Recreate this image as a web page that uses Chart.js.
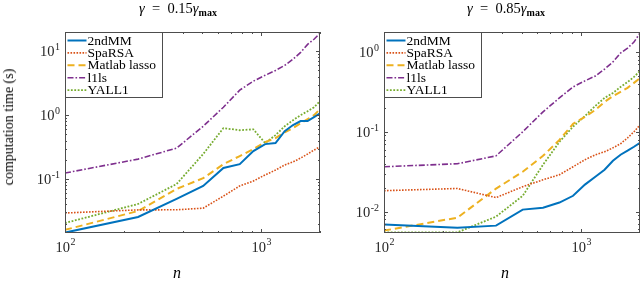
<!DOCTYPE html>
<html>
<head>
<meta charset="utf-8">
<script src="https://cdn.jsdelivr.net/npm/chart.js@4.4.1/dist/chart.umd.min.js"></script>
<style>
  body { margin: 0; width: 640px; height: 281px; overflow: hidden; background: #fff; position: relative; font-family: "Liberation Serif", serif; color: #000; }
  canvas { position: absolute; top: 0; }
  .lbl { position: absolute; white-space: nowrap; transform: translate(-50%, -50%); font-size: 14.5px; }
  .lbl sub { font-size: 10px; font-weight: bold; vertical-align: -3px; }
  .ylab { position: absolute; white-space: nowrap; font-size: 14px; transform: translate(-50%, -50%) rotate(-90deg); }
</style>
</head>
<body>
<canvas id="cL" width="330" height="281" style="left:0"></canvas>
<canvas id="cR" width="320" height="281" style="left:320px"></canvas>
<div class="lbl" style="left:178px; top:9px"><i>γ</i>&nbsp;&nbsp;=&nbsp;&nbsp;0.15<i>γ</i><sub>max</sub></div>
<div class="lbl" style="left:506px; top:9px"><i>γ</i>&nbsp;&nbsp;=&nbsp;&nbsp;0.85<i>γ</i><sub>max</sub></div>
<div class="ylab" style="left:9px; top:127px">computation time (s)</div>
<div class="lbl" style="left:177px; top:273px; font-size:16px"><i>n</i></div>
<div class="lbl" style="left:505px; top:273px; font-size:16px"><i>n</i></div>
<script>
// problem sizes n (15 points, 100..2000)
const nVals = [100, 236, 371, 507, 643, 779, 914, 1050, 1186, 1321, 1457, 1593, 1729, 1864, 2000];

// gamma = 0.15 gamma_max
const mm2L   = [0.0145, 0.0255, 0.049, 0.078, 0.149, 0.171, 0.274, 0.352, 0.365, 0.56, 0.70, 0.806, 0.806, 0.93, 1.07];
const spaL   = [0.0294, 0.0329, 0.033, 0.035, 0.054, 0.078, 0.093, 0.116, 0.138, 0.166, 0.185, 0.213, 0.246, 0.284, 0.32];
const lassoL = [0.016, 0.0316, 0.070, 0.103, 0.171, 0.229, 0.294, 0.378, 0.437, 0.54, 0.627, 0.75, 0.866, 1.0, 1.24];
const l1lsL  = [0.124, 0.205, 0.305, 0.67, 1.33, 2.46, 3.4, 4.2, 5.0, 6.0, 7.5, 9.6, 12.8, 15.4, 19.1];
const yallL  = [0.0205, 0.0407, 0.0835, 0.246, 0.627, 0.58, 0.60, 0.365, 0.487, 0.67, 0.835, 1.0, 1.15, 1.33, 1.65];

// gamma = 0.85 gamma_max
const mm2R   = [0.00688, 0.0063, 0.00668, 0.0106, 0.0112, 0.013, 0.0158, 0.0218, 0.0274, 0.0335, 0.0434, 0.0516, 0.058, 0.065, 0.073];
const spaR   = [0.0183, 0.0195, 0.015, 0.0205, 0.0251, 0.029, 0.0365, 0.0447, 0.0516, 0.0562, 0.063, 0.0708, 0.084, 0.1, 0.122];
const lassoR = [0.00579, 0.0084, 0.0194, 0.0316, 0.05, 0.079, 0.126, 0.154, 0.188, 0.237, 0.28, 0.316, 0.355, 0.41, 0.47];
const l1lsR  = [0.0365, 0.0398, 0.05, 0.1, 0.178, 0.266, 0.365, 0.435, 0.5, 0.61, 0.75, 0.97, 1.12, 1.33, 1.73];
const yallR  = [0.0055, 0.0055, 0.00866, 0.0158, 0.0387, 0.075, 0.116, 0.158, 0.211, 0.266, 0.307, 0.365, 0.42, 0.487, 0.58];

const names = ['2ndMM', 'SpaRSA', 'Matlab lasso', 'l1ls', 'YALL1'];
const styles = [
  { color: '#0072BD', width: 2,   dash: [] },
  { color: '#D95319', width: 1.6, dash: [1.6, 1.4] },
  { color: '#EDB120', width: 2,   dash: [7, 4] },
  { color: '#7E2F8E', width: 1.6, dash: [6, 2, 1.6, 2] },
  { color: '#77AC30', width: 1.8, dash: [1.8, 1.6] }
];

const FONT = '"Liberation Serif", serif';

function makeSets(series) {
  return series.map((vals, i) => ({
    label: names[i],
    data: vals.map((v, k) => ({ x: nVals[k], y: v })),
    borderColor: styles[i].color,
    borderWidth: styles[i].width,
    borderDash: styles[i].dash,
    pointRadius: 0,
    tension: 0,
    fill: false
  }));
}

function line(ctx, x1, y1, x2, y2) {
  ctx.beginPath(); ctx.moveTo(x1, y1); ctx.lineTo(x2, y2); ctx.stroke();
}

// draws "10" with superscript exponent; anchor = 'right' or 'center'
function powLabel(ctx, exp, x, y, anchor) {
  ctx.font = '14.5px ' + FONT;
  const wb = ctx.measureText('10').width;
  ctx.font = '10px ' + FONT;
  const txt = String(exp).replace('-', '\u2011');
  const we = ctx.measureText(txt).width;
  const total = wb + we + 0.5;
  const x0 = anchor === 'right' ? x - total : x - total / 2;
  ctx.textBaseline = 'middle';
  ctx.textAlign = 'left';
  ctx.font = '14.5px ' + FONT;
  ctx.fillText('10', x0, y);
  ctx.font = '10px ' + FONT;
  ctx.fillText(txt, x0 + wb + 0.5, y - 5.5);
}

// MATLAB-like box, inward ticks, tick labels and legend
const axesDeco = {
  id: 'axesDeco',
  afterDatasetsDraw(chart) {
    const { ctx, chartArea: a, scales: { x, y } } = chart;
    ctx.save();
    ctx.strokeStyle = '#4d4d4d';
    ctx.fillStyle = '#262626';
    ctx.lineWidth = 1;
    ctx.setLineDash([]);

    for (let e = 1; e <= 4; e++) {
      for (let m = 1; m < 10; m++) {
        const v = m * Math.pow(10, e);
        if (v < x.min - 1e-9 || v > x.max + 1e-9) continue;
        const px = Math.round(x.getPixelForValue(v)) + 0.5;
        const len = m === 1 ? 4 : 2;
        line(ctx, px, a.bottom, px, a.bottom - len);
        line(ctx, px, a.top, px, a.top + len);
        if (m === 1) powLabel(ctx, e, px, a.bottom + 15, 'center');
      }
    }
    for (let e = -3; e <= 2; e++) {
      for (let m = 1; m < 10; m++) {
        const v = m * Math.pow(10, e);
        if (v < y.min || v > y.max) continue;
        const py = Math.round(y.getPixelForValue(v)) + 0.5;
        const len = m === 1 ? 4 : 2;
        line(ctx, a.left, py, a.left + len, py);
        line(ctx, a.right, py, a.right - len, py);
        if (m === 1) powLabel(ctx, e, a.left - 5, py + 1, 'right');
      }
    }
    ctx.strokeRect(a.left + 0.5, a.top + 0.5, a.right - a.left - 1, a.bottom - a.top - 1);

    // legend
    const lx = a.left + 0.5, ly = a.top + 0.5, lw = 97, lh = 65;
    ctx.fillStyle = '#fff';
    ctx.fillRect(lx, ly, lw, lh);
    ctx.strokeStyle = '#4d4d4d';
    ctx.strokeRect(lx, ly, lw, lh);
    chart.data.datasets.forEach((ds, i) => {
      const ry = ly + 8 + i * 12.4;
      ctx.strokeStyle = ds.borderColor;
      ctx.lineWidth = ds.borderWidth;
      ctx.setLineDash(ds.borderDash);
      line(ctx, lx + 2, ry, lx + 21, ry);
      ctx.setLineDash([]);
      ctx.fillStyle = '#000';
      ctx.font = '13.5px ' + FONT;
      ctx.textAlign = 'left';
      ctx.textBaseline = 'middle';
      ctx.fillText(ds.label, lx + 22, ry + 0.5);
    });
    ctx.restore();
  }
};

function makeChart(id, series, yMin, yMax, pad) {
  return new Chart(document.getElementById(id), {
    type: 'line',
    data: { datasets: makeSets(series) },
    options: {
      responsive: false,
      animation: false,
      layout: { padding: pad },
      scales: {
        x: { type: 'logarithmic', min: 100, max: 2000, display: false },
        y: { type: 'logarithmic', min: yMin, max: yMax, display: false }
      },
      plugins: { legend: { display: false }, tooltip: { enabled: false } }
    },
    plugins: [axesDeco]
  });
}

makeChart('cL', [mm2L, spaL, lassoL, l1lsL, yallL], 0.0143, 20, { left: 65, right: 10, top: 32, bottom: 48 });
makeChart('cR', [mm2R, spaR, lassoR, l1lsR, yallR], 0.0054, 1.78, { left: 64, right: 0, top: 32, bottom: 48 });
</script>
</body>
</html>
